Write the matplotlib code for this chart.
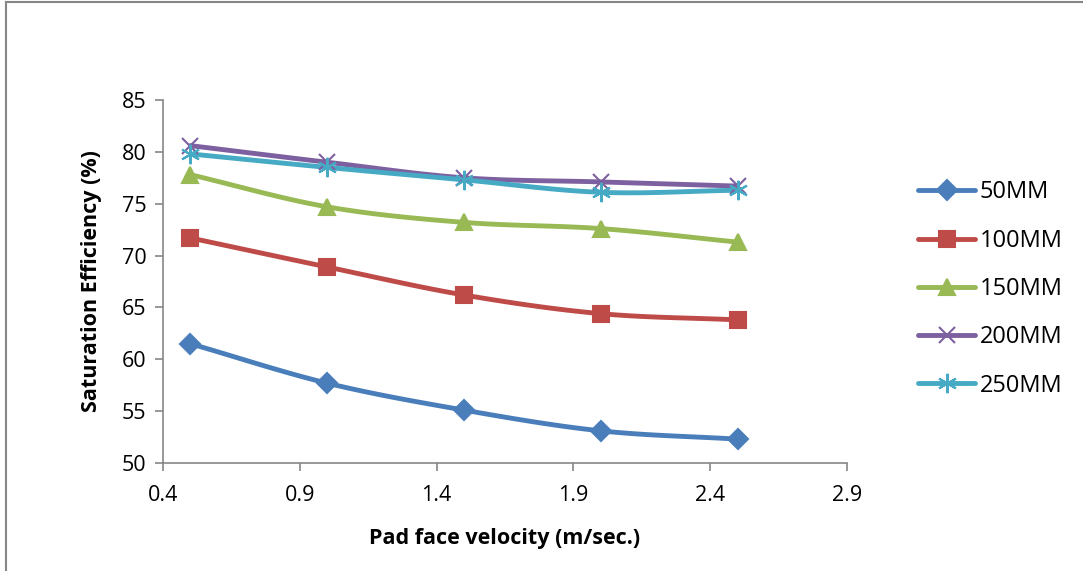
import numpy as np
import matplotlib.pyplot as plt
from matplotlib.lines import Line2D

plt.rcParams['font.family'] = ['Open Sans', 'DejaVu Sans']

velocity = [0.5, 1.0, 1.5, 2.0, 2.5]
eff_50 = [61.5, 57.7, 55.1, 53.1, 52.3]
eff_100 = [71.7, 68.9, 66.2, 64.4, 63.8]
eff_150 = [77.8, 74.7, 73.2, 72.6, 71.3]
eff_200 = [80.6, 79.0, 77.5, 77.1, 76.7]
eff_250 = [79.8, 78.5, 77.3, 76.1, 76.3]
labels = ["50MM", "100MM", "150MM", "200MM", "250MM"]

colors = ['#4A7EBB', '#BE4B48', '#98B954', '#7D60A0', '#46AAC5']
markers = ['D', 's', '^', 'x', (6, 2, 0)]
msizes = [10, 12, 12, 12, 14]


def smooth(x, y, n=30):
    # excel-style smoothed line (catmull-rom through the points)
    x = np.asarray(x, float)
    y = np.asarray(y, float)
    px = np.concatenate([[2 * x[0] - x[1]], x, [2 * x[-1] - x[-2]]])
    py = np.concatenate([[2 * y[0] - y[1]], y, [2 * y[-1] - y[-2]]])
    xs, ys = [], []
    t = np.linspace(0, 1, n)
    for i in range(1, len(px) - 2):
        for p, out in ((px, xs), (py, ys)):
            p0, p1, p2, p3 = p[i - 1], p[i], p[i + 1], p[i + 2]
            out.extend(0.5 * (2 * p1 + (-p0 + p2) * t
                              + (2 * p0 - 5 * p1 + 4 * p2 - p3) * t ** 2
                              + (-p0 + 3 * p1 - 3 * p2 + p3) * t ** 3))
    return xs, ys


fig = plt.figure(figsize=(10.83, 5.71), dpi=100)
ax = fig.add_axes([163 / 1083, 1 - 463 / 571, 684 / 1083, 363 / 571])

series = [eff_50, eff_100, eff_150, eff_200, eff_250]
handles = []
for ys, lab, c, m, ms in zip(series, labels, colors, markers, msizes):
    sx, sy = smooth(velocity, ys)
    ax.plot(sx, sy, color=c, lw=3.5, solid_capstyle='round', zorder=2)
    ax.plot(velocity, ys, linestyle='none', marker=m, markersize=ms,
            color=c, markeredgecolor=c, markeredgewidth=1.5, zorder=3)
    handles.append(Line2D([], [], color=c, lw=3.5, marker=m, markersize=ms,
                          markeredgecolor=c, markeredgewidth=1.5,
                          solid_capstyle='round'))

ax.set_xlim(0.4, 2.9)
ax.set_ylim(50, 85)
ax.set_xticks([0.4, 0.9, 1.4, 1.9, 2.4, 2.9])
ax.set_yticks(range(50, 90, 5))

for side in ['top', 'right']:
    ax.spines[side].set_visible(False)
for side in ['left', 'bottom']:
    ax.spines[side].set_color('#868686')
    ax.spines[side].set_linewidth(1.2)
ax.tick_params(colors='#868686', labelcolor='black', labelsize=15.5,
               length=6, width=1.2)
ax.tick_params(axis='x', pad=10)
ax.tick_params(axis='y', pad=6)

ax.set_xlabel('Pad face velocity (m/sec.)', fontsize=15.5, fontweight='bold',
              labelpad=16)
ax.set_ylabel('Saturation Efficiency (%)', fontsize=15.5, fontweight='bold',
              labelpad=14)

fig.legend(handles, labels, loc='upper left', bbox_to_anchor=(909 / 1083, 1 - 171 / 571),
           frameon=False, fontsize=17, handlelength=2.4, labelspacing=1.03,
           handletextpad=0.2, borderaxespad=0)

# outer chart border (only left and top edges visible)
fig.add_artist(Line2D([6 / 1083, 6 / 1083], [0, 1 - 2 / 571], color='#868686', lw=1.5))
fig.add_artist(Line2D([6 / 1083, 1], [1 - 2 / 571, 1 - 2 / 571], color='#868686', lw=1.5))

fig.savefig('out.png', dpi=100)
